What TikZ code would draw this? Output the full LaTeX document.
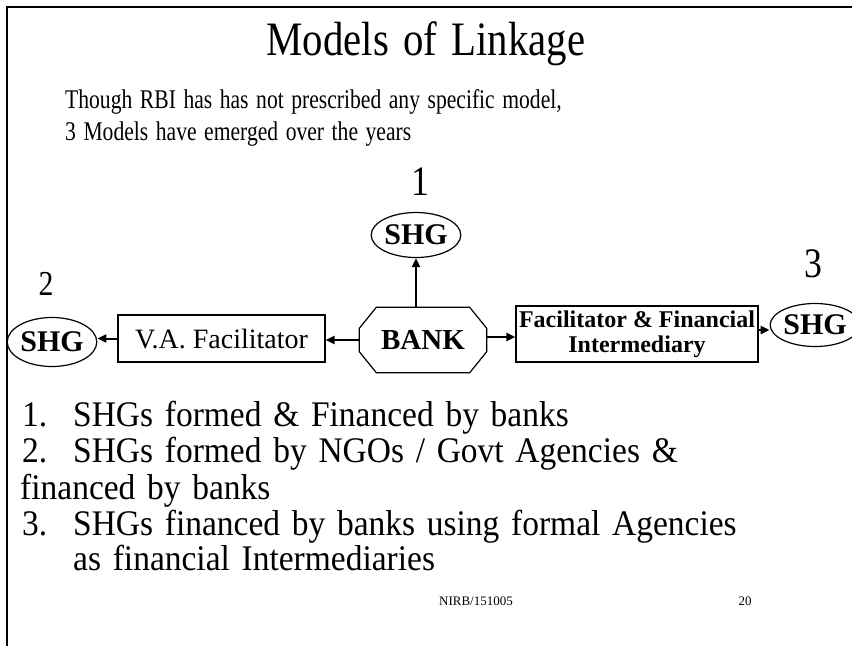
\documentclass[tikz,border=0pt]{standalone}
\usepackage{fontspec}
\setmainfont{Liberation Serif}
\newfontfamily\cond[FakeStretch=0.85,WordSpace=1.4]{Liberation Serif}
\newfontfamily\subf[FakeStretch=0.8,WordSpace=1.4]{Liberation Serif}
\newfontfamily\bodyf[FakeStretch=0.93,WordSpace=1.4]{Liberation Serif}
\usetikzlibrary{shapes.geometric,arrows.meta}
\tikzset{
  shgnode/.style={ellipse,draw,line width=1.2pt,inner sep=0pt,minimum width=78pt,minimum height=45pt,font=\fontsize{30}{32}\selectfont\bfseries},
  boxnode/.style={rectangle,draw,line width=1.2pt,inner sep=0pt,align=center},
  link/.style={line width=2pt,-{Triangle[length=9pt,width=8pt]}},
  subtxt/.style={anchor=base west,inner sep=0pt,font=\subf\fontsize{27}{30}\selectfont},
  txt/.style={anchor=base west,inner sep=0pt,font=\bodyf\fontsize{36}{40}\selectfont},
  num/.style={inner sep=0pt,font=\cond\fontsize{42}{44}\selectfont}
}
\begin{document}
\begin{tikzpicture}[x=1pt,y=-1pt]
\useasboundingbox (0,0) rectangle (852,646);
% frame
\draw[line width=2.4pt] (852,7) -- (7,7) -- (7,646);
% title and intro
\node[anchor=base,inner sep=0pt,font=\cond\fontsize{48}{50}\selectfont] (title) at (426,55) {Models of Linkage};
\node[subtxt] (intro1) at (65,108) {Though RBI has has not prescribed any specific model,};
\node[subtxt] (intro2) at (65,140) {3 Models have emerged over the years};
% numbers
\node[num] (n1) at (420,182) {1};
\node[num,font=\cond\fontsize{35}{40}\selectfont] (n2) at (46,284) {2};
\node[num] (n3) at (813,264) {3};
% nodes
\node[shgnode] (shg1) at (416,235) {SHG};
\node[inner sep=0pt,minimum width=127pt,minimum height=65pt,font=\fontsize{29}{30}\selectfont\bfseries] (bank) at (423,340) {BANK};
\draw[line width=1.2pt] ([xshift=17pt]bank.north west) -- ([xshift=-17pt]bank.north east)
  -- ([yshift=-21pt]bank.north east) -- ([yshift=21pt]bank.south east)
  -- ([xshift=-17pt]bank.south east) -- ([xshift=17pt]bank.south west)
  -- ([yshift=21pt]bank.south west) -- ([yshift=-21pt]bank.north west) -- cycle;
\node[shgnode,minimum width=80pt,minimum height=49pt] (shg2) at (52,342) {SHG};
\node[boxnode,minimum width=207pt,minimum height=47pt,font=\fontsize{28}{30}\selectfont] (va) at (221.5,338.5) {V.A. Facilitator};
\node[boxnode,minimum width=242pt,minimum height=56pt,font=\fontsize{24}{25}\selectfont\bfseries] (fac) at (637,334) {Facilitator \& Financial\\Intermediary};
\node[shgnode,minimum width=74pt,minimum height=43pt] (shg3) at (815,325) {SHG};
% connectors
\draw[link] (shg1.south |- bank.north) -- (shg1.south);
\draw[link] (bank.west) -- (bank.west -| va.east);
\draw[link] (va.west) -- (va.west -| shg2.east);
\draw[link] (bank.east |- 0,337) -- (fac.west |- 0,337);
\draw[link] (fac.east |- 0,330) -- (shg3.west |- 0,330);
% list
\node[txt] (l1n) at (22,426) {1.};
\node[txt] (l1) at (73,426) {SHGs formed \& Financed by banks};
\node[txt] (l2n) at (22,462) {2.};
\node[txt] (l2) at (73,462) {SHGs formed by NGOs / Govt Agencies \&};
\node[txt] (l3) at (20,499) {financed by banks};
\node[txt] (l4n) at (22,535) {3.};
\node[txt] (l4) at (73,535) {SHGs financed by banks using formal Agencies};
\node[txt] (l5) at (73,570) {as financial Intermediaries};
% footer
\node[anchor=base,inner sep=0pt,font=\fontsize{13}{15}\selectfont] (foot) at (476,605) {NIRB/151005};
\node[anchor=base,inner sep=0pt,font=\fontsize{13}{15}\selectfont] (page) at (745,605) {20};
\end{tikzpicture}
\end{document}
